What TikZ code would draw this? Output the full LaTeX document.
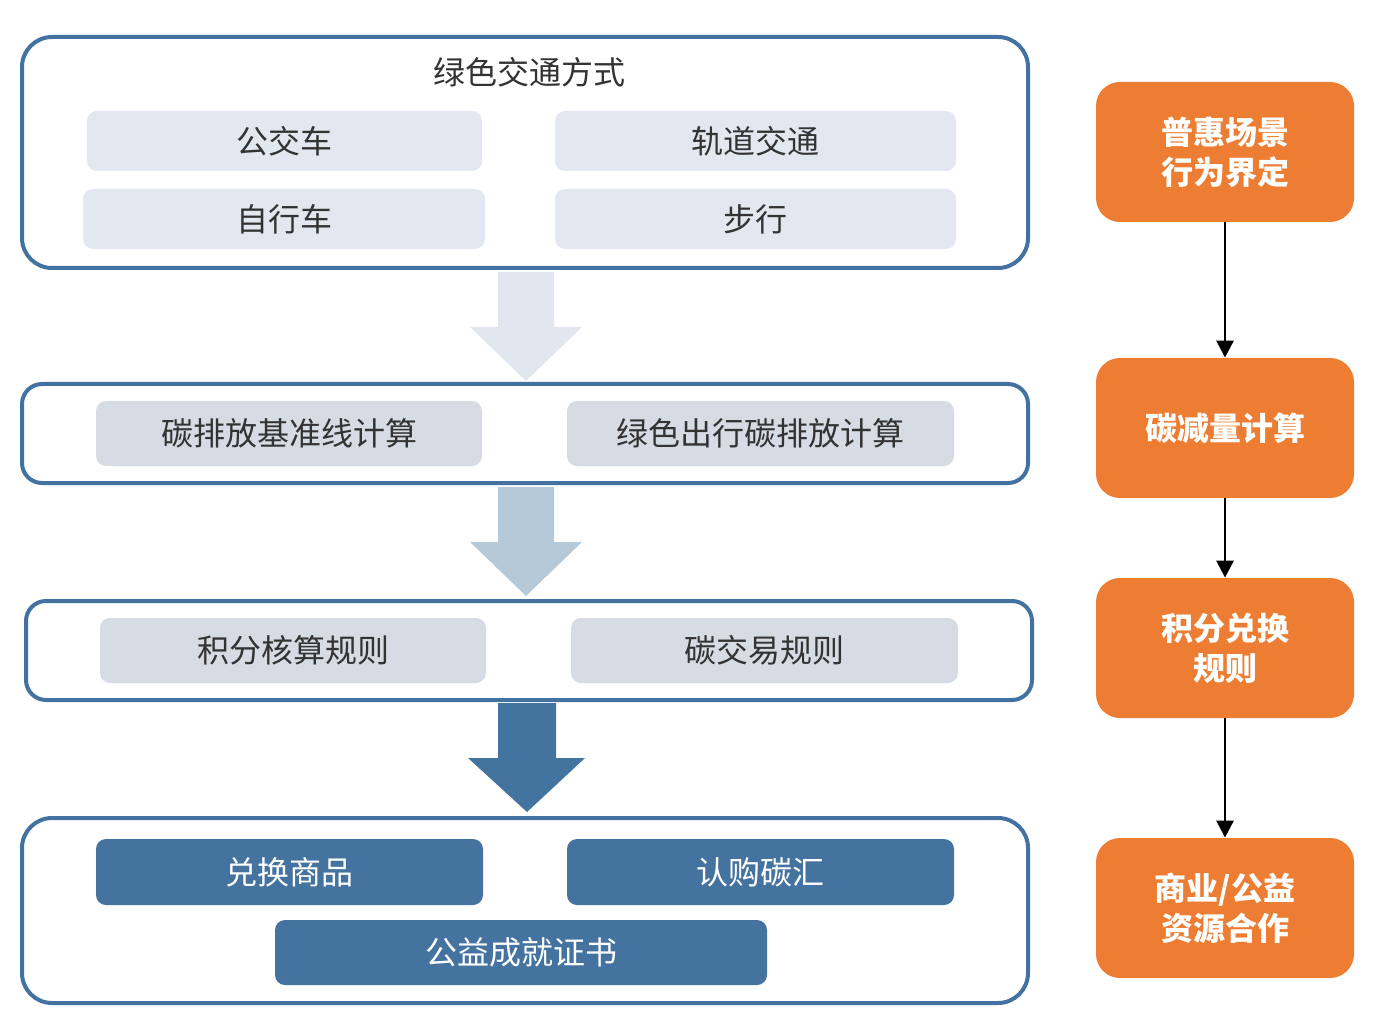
\documentclass[tikz,border=0pt]{standalone}
\usepackage{fontspec}
\setmainfont{Noto Sans CJK SC}
\usetikzlibrary{fit,arrows.meta}
\definecolor{bordc}{RGB}{68,114,160}
\definecolor{lightg}{RGB}{227,232,240}
\definecolor{midg}{RGB}{214,219,228}
\definecolor{bluec}{RGB}{68,115,159}
\definecolor{arrA}{RGB}{226,231,239}
\definecolor{arrB}{RGB}{181,201,216}
\definecolor{arrC}{RGB}{67,115,159}
\definecolor{orangec}{RGB}{236,125,50}
\definecolor{txtc}{RGB}{51,51,51}
\begin{document}
\begin{tikzpicture}[x=0.5pt,y=-0.5pt,
  outerbox/.style={draw=bordc, line width=2pt, rounded corners=15pt, inner sep=0pt, fill=white},
  gbox/.style={fill=lightg, rounded corners=5pt, inner sep=0pt, text=txtc, font=\fontsize{16}{19}\selectfont},
  mbox/.style={fill=midg, rounded corners=5pt, inner sep=0pt, text=txtc, font=\fontsize{16}{19}\selectfont},
  bbox/.style={fill=bluec, rounded corners=5pt, inner sep=0pt, text=white, font=\fontsize{16}{19}\selectfont},
  obox/.style={fill=orangec, rounded corners=12pt, inner sep=0pt, text=white, align=center, font=\fontsize{16}{20}\selectfont\bfseries},
  conn/.style={line width=1.4pt, -{Triangle[length=8.5pt,width=8.5pt]}}
]
\useasboundingbox (0,0) rectangle (1400,1031);

% outer containers
\node[outerbox, fit={(22,37)(1028,268)}] (c1) {};
\node[outerbox, rounded corners=10pt, fit={(22,384)(1028,483)}] (c2) {};
\node[outerbox, rounded corners=10pt, fit={(26,601)(1032,700)}] (c3) {};
\node[outerbox, fit={(22,818)(1028,1003)}] (c4) {};

% title
\node[text=txtc, font=\fontsize{16}{19}\selectfont] (title) at (529,72) {绿色交通方式};

% box 1 contents
\node[gbox, minimum width=197.5pt, minimum height=30pt] (bus) at (284.5,141) {公交车};
\node[gbox, minimum width=200.5pt, minimum height=30pt] (rail) at (755.5,141) {轨道交通};
\node[gbox, minimum width=201pt, minimum height=30pt] (bike) at (284,219) {自行车};
\node[gbox, minimum width=200.5pt, minimum height=30pt] (walk) at (755.5,219) {步行};

% box 2 contents
\node[mbox, minimum width=193pt, minimum height=32.5pt] (base) at (289,433.5) {碳排放基准线计算};
\node[mbox, minimum width=193.5pt, minimum height=32.5pt] (green) at (760.5,433.5) {绿色出行碳排放计算};

% box 3 contents
\node[mbox, minimum width=193pt, minimum height=32.5pt] (points) at (293,650.5) {积分核算规则};
\node[mbox, minimum width=193.5pt, minimum height=32.5pt] (trade) at (764.5,650.5) {碳交易规则};

% box 4 contents
\node[bbox, minimum width=193.5pt, minimum height=33pt] (goods) at (289.5,872) {兑换商品};
\node[bbox, minimum width=193.5pt, minimum height=33pt] (sink) at (760.5,872) {认购碳汇};
\node[bbox, minimum width=246pt, minimum height=32.5pt] (cert) at (521,952.5) {公益成就证书};

% block arrows
\fill[arrA] (498,272) -- (554,272) -- (554,327) -- (582,327) -- (526,381) -- (470,327) -- (498,327) -- cycle;
\fill[arrB] (498,487) -- (554,487) -- (554,542) -- (582,542) -- (526,596) -- (470,542) -- (498,542) -- cycle;
\fill[arrC] (498,703) -- (556,703) -- (556,758) -- (585,758) -- (527,812) -- (468,758) -- (498,758) -- cycle;

% orange column
\node[obox, minimum width=129pt, minimum height=70pt] (o1) at (1225,152) {普惠场景\\行为界定};
\node[obox, minimum width=129pt, minimum height=70pt] (o2) at (1225,428) {碳减量计算};
\node[obox, minimum width=129pt, minimum height=70pt] (o3) at (1225,648) {积分兑换\\规则};
\node[obox, minimum width=129pt, minimum height=70pt] (o4) at (1225,908) {商业/公益\\资源合作};

\draw[conn] (o1.south) -- (o2.north);
\draw[conn] (o2.south) -- (o3.north);
\draw[conn] (o3.south) -- (o4.north);
\end{tikzpicture}
\end{document}
